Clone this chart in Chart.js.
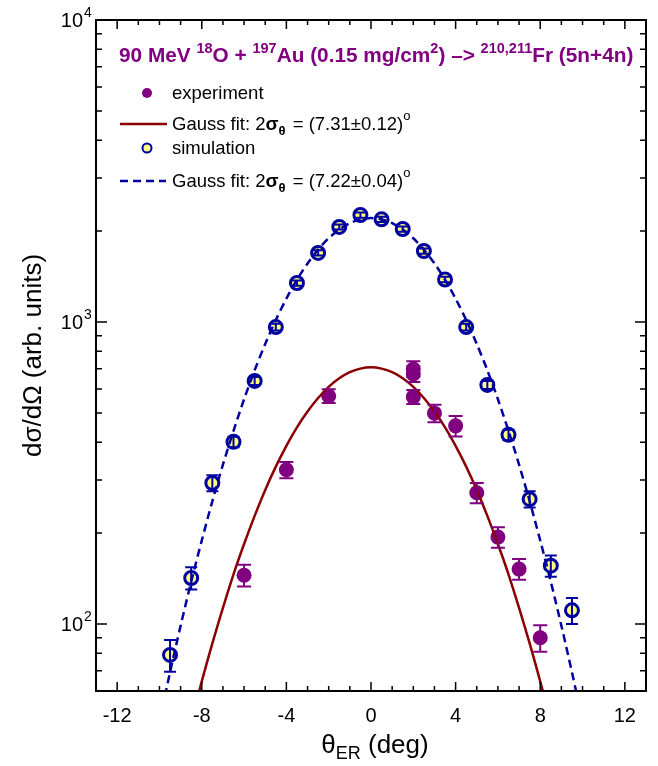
<!DOCTYPE html>
<html>
<head>
<meta charset="utf-8">
<script src="https://cdn.jsdelivr.net/npm/chart.js@4"></script>
<style>
  html, body { margin: 0; padding: 0; background: #fff; }
  canvas { display: block; }
</style>
</head>
<body>
<canvas id="chart" width="658" height="766"></canvas>
<script>
// experiment (filled purple)
const expX = [-6, -4, -2, 2, 2, 2, 3, 4, 5, 6, 7, 8];
const expY = [145, 324, 569, 699, 673, 565, 499, 453, 272, 194, 152, 90];
const expErr = [12, 20, 30, 42, 40, 30, 33, 35, 21, 15, 12, 9];

// simulation (open circles)
const simX = [-9.5, -8.5, -7.5, -6.5, -5.5, -4.5, -3.5, -2.5, -1.5, -0.5,
              0.5, 1.5, 2.5, 3.5, 4.5, 5.5, 6.5, 7.5, 8.5, 9.5];
const simY = [79, 142, 293, 401, 638, 962, 1346, 1693, 2064, 2261,
              2188, 2032, 1718, 1383, 962, 619, 423, 259, 156, 111];
const simErr = [9.5, 12, 18, 16, 19, 24, 27, 34, 41, 45,
                44, 41, 34, 28, 24, 19, 17, 16, 12.5, 11];

// gauss fit curves
const fitExpX = [-8.5, -8, -7.5, -7, -6.5, -6, -5.5, -5, -4.5, -4, -3.5, -3, -2.5, -2, -1.5, -1, -0.5, 0,
                 0.5, 1, 1.5, 2, 2.5, 3, 3.5, 4, 4.5, 5, 5.5, 6, 6.5, 7, 7.5, 8, 8.5];
const fitExpY = [47.4, 64.6, 86.3, 113, 146, 184, 228, 278, 332, 389, 448, 505, 560, 610, 651, 682, 701, 708,
                 701, 682, 651, 610, 560, 505, 448, 389, 332, 278, 228, 184, 146, 113, 86.3, 64.6, 47.4];
const fitSimX = [-10, -9.5, -9, -8.5, -8, -7.5, -7, -6.5, -6, -5.5, -5, -4.5, -4, -3.5, -3, -2.5, -2, -1.5, -1, -0.5, 0,
                 0.5, 1, 1.5, 2, 2.5, 3, 3.5, 4, 4.5, 5, 5.5, 6, 6.5, 7, 7.5, 8, 8.5, 9, 9.5, 10];
const fitSimY = [47.6, 69.2, 98.7, 138, 189, 255, 337, 436, 555, 692, 846, 1015, 1195, 1380, 1563, 1737, 1894, 2025, 2125, 2187, 2208,
                 2187, 2125, 2025, 1894, 1737, 1563, 1380, 1195, 1015, 846, 692, 555, 436, 337, 255, 189, 138, 98.7, 69.2, 47.6];

// axis ticks
const xMajor = [-12, -8, -4, 0, 4, 8, 12];
const xMinor = [-13, -11, -10, -9, -7, -6, -5, -3, -2, -1, 1, 2, 3, 5, 6, 7, 9, 10, 11, 13];
const yMajor = [100, 1000, 10000];
const yMajorExp = ["2", "3", "4"];
const yMinor = [70, 80, 90, 200, 300, 400, 500, 600, 700, 800, 900,
                2000, 3000, 4000, 5000, 6000, 7000, 8000, 9000];

const FONT = '"Liberation Sans", Arial, sans-serif';
const PURPLE = "#800080";
const DARKRED = "#8b0000";
const BLUE = "#0000a0";
const YELLOW = "#ffff80";

const pts = (xs, ys) => xs.map((v, i) => ({ x: v, y: ys[i] }));

function setFont(ctx, p) {
  ctx.font = (p.bold ? "bold " : "") + p.size + "px " + FONT;
}

// draw a run of text pieces (for sub/superscripts)
function richText(ctx, parts, x, y, align) {
  let w = 0;
  parts.forEach(p => { setFont(ctx, p); w += ctx.measureText(p.t).width + (p.gap || 0); });
  let cx = align === "center" ? x - w / 2 : align === "right" ? x - w : x;
  ctx.textAlign = "left";
  ctx.textBaseline = "alphabetic";
  parts.forEach(p => {
    setFont(ctx, p);
    ctx.fillText(p.t, cx, y + (p.dy || 0));
    cx += ctx.measureText(p.t).width + (p.gap || 0);
  });
  return w;
}

const decor = {
  id: "decor",
  afterDatasetsDraw(chart) {
    const { ctx, chartArea: a, scales: { x, y } } = chart;
    ctx.save();

    // error bars
    const bars = (xs, ys, es, color, cap) => {
      ctx.strokeStyle = color;
      ctx.lineWidth = 2;
      xs.forEach((v, i) => {
        const px = x.getPixelForValue(v);
        const top = y.getPixelForValue(ys[i] + es[i]);
        const bot = y.getPixelForValue(ys[i] - es[i]);
        ctx.beginPath();
        ctx.moveTo(px, top); ctx.lineTo(px, bot);
        ctx.moveTo(px - cap, top); ctx.lineTo(px + cap, top);
        ctx.moveTo(px - cap, bot); ctx.lineTo(px + cap, bot);
        ctx.stroke();
      });
    };
    bars(expX, expY, expErr, PURPLE, 7);
    bars(simX, simY, simErr, BLUE, 6);

    // frame
    ctx.strokeStyle = "#000";
    ctx.lineWidth = 2;
    ctx.strokeRect(a.left, a.top, a.right - a.left, a.bottom - a.top);

    // inward ticks on all four sides
    ctx.lineWidth = 1.5;
    ctx.beginPath();
    const xt = (v, len) => {
      const px = x.getPixelForValue(v);
      ctx.moveTo(px, a.bottom); ctx.lineTo(px, a.bottom - len);
      ctx.moveTo(px, a.top); ctx.lineTo(px, a.top + len);
    };
    const yt = (v, len) => {
      const py = y.getPixelForValue(v);
      ctx.moveTo(a.left, py); ctx.lineTo(a.left + len, py);
      ctx.moveTo(a.right, py); ctx.lineTo(a.right - len, py);
    };
    xMajor.forEach(v => xt(v, 9));
    xMinor.forEach(v => xt(v, 5));
    yMajor.forEach(v => yt(v, 11));
    yMinor.forEach(v => yt(v, 6));
    ctx.stroke();

    // tick labels
    ctx.fillStyle = "#000";
    xMajor.forEach(v => {
      richText(ctx, [{ t: String(v), size: 20 }], x.getPixelForValue(v), a.bottom + 31, "center");
    });
    yMajor.forEach((v, i) => {
      const py = y.getPixelForValue(v);
      richText(ctx, [{ t: "10", size: 20 }], a.left - 13, py + 7, "right");
      richText(ctx, [{ t: yMajorExp[i], size: 14 }], a.left - 12, py - 3, "left");
    });

    // axis titles
    richText(ctx, [
      { t: "\u03b8", size: 26 },
      { t: "ER", size: 18, dy: 6 },
      { t: " (deg)", size: 26 }
    ], (a.left + a.right) / 2 + 4, 753, "center");

    ctx.save();
    ctx.translate(41, (a.top + a.bottom) / 2);
    ctx.rotate(-Math.PI / 2);
    richText(ctx, [{ t: "d\u03c3/d\u03a9 (arb. units)", size: 26 }], 0, 0, "center");
    ctx.restore();

    // plot title
    ctx.fillStyle = PURPLE;
    richText(ctx, [
      { t: "90 MeV ", size: 20.8, bold: true },
      { t: "18", size: 14.5, bold: true, dy: -9 },
      { t: "O + ", size: 20.8, bold: true },
      { t: "197", size: 14.5, bold: true, dy: -9 },
      { t: "Au (0.15 mg/cm", size: 20.8, bold: true },
      { t: "2", size: 14.5, bold: true, dy: -9 },
      { t: ") \u2013> ", size: 20.8, bold: true },
      { t: "210,211", size: 14.5, bold: true, dy: -9 },
      { t: "Fr (5n+4n)", size: 20.8, bold: true }
    ], 119, 62, "left");

    // legend
    ctx.fillStyle = "#000";
    const tx = 172;
    const gauss = val => [
      { t: "Gauss fit: 2", size: 18.5 },
      { t: "\u03c3", size: 19, bold: true },
      { t: "\u03b8", size: 13, bold: true, dy: 5, gap: 2 },
      { t: " = (" + val + ")", size: 18.5 },
      { t: "o", size: 13, dy: -10 }
    ];
    richText(ctx, [{ t: "experiment", size: 18.5 }], tx, 99, "left");
    richText(ctx, gauss("7.31\u00b10.12"), tx, 130, "left");
    richText(ctx, [{ t: "simulation", size: 18.5 }], tx, 154, "left");
    richText(ctx, gauss("7.22\u00b10.04"), tx, 187, "left");

    ctx.beginPath();
    ctx.fillStyle = PURPLE;
    ctx.arc(147, 93, 5, 0, Math.PI * 2);
    ctx.fill();

    ctx.beginPath();
    ctx.fillStyle = YELLOW;
    ctx.strokeStyle = BLUE;
    ctx.lineWidth = 2;
    ctx.arc(147, 148, 4.5, 0, Math.PI * 2);
    ctx.fill();
    ctx.stroke();

    ctx.lineWidth = 2.5;
    ctx.strokeStyle = DARKRED;
    ctx.beginPath();
    ctx.moveTo(120, 124); ctx.lineTo(167, 124);
    ctx.stroke();

    ctx.strokeStyle = BLUE;
    ctx.setLineDash([8, 5]);
    ctx.beginPath();
    ctx.moveTo(120, 181); ctx.lineTo(166, 181);
    ctx.stroke();

    ctx.restore();
  }
};

new Chart(document.getElementById("chart"), {
  type: "scatter",
  data: {
    datasets: [
      {
        label: "Gauss fit exp",
        data: pts(fitExpX, fitExpY),
        showLine: true,
        borderColor: DARKRED,
        borderWidth: 2.5,
        pointRadius: 0,
        tension: 0.3
      },
      {
        label: "Gauss fit sim",
        data: pts(fitSimX, fitSimY),
        showLine: true,
        borderColor: BLUE,
        borderWidth: 2.5,
        borderDash: [8, 5],
        pointRadius: 0,
        tension: 0.3
      },
      {
        label: "experiment",
        data: pts(expX, expY),
        backgroundColor: PURPLE,
        borderColor: PURPLE,
        pointRadius: 7.5,
        borderWidth: 0
      },
      {
        label: "simulation",
        data: pts(simX, simY),
        backgroundColor: YELLOW,
        borderColor: BLUE,
        pointRadius: 6.5,
        borderWidth: 3
      }
    ]
  },
  options: {
    responsive: false,
    animation: false,
    devicePixelRatio: 1,
    layout: { padding: { left: 96, right: 12, top: 20, bottom: 75 } },
    plugins: {
      legend: { display: false },
      tooltip: { enabled: false }
    },
    scales: {
      x: { type: "linear", min: -13, max: 13, display: false },
      y: { type: "logarithmic", min: 60, max: 10000, display: false }
    }
  },
  plugins: [decor]
});
</script>
</body>
</html>
